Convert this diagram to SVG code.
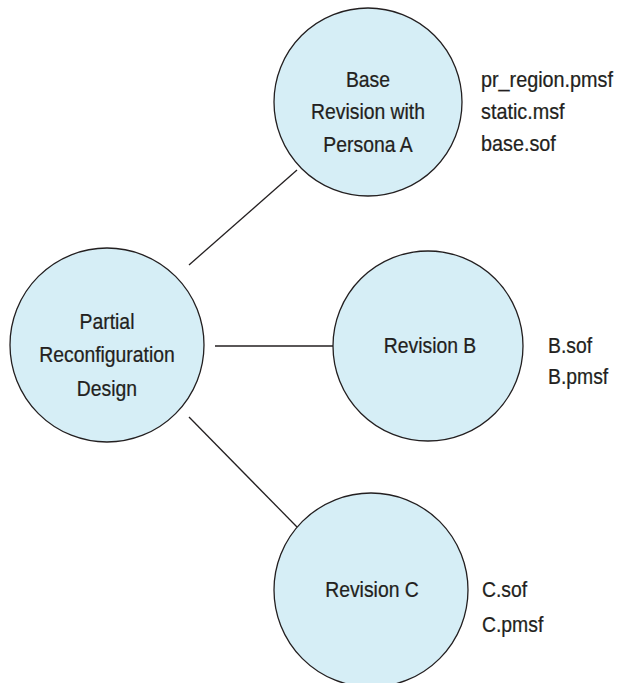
<svg xmlns="http://www.w3.org/2000/svg" width="620" height="683" viewBox="0 0 620 683">
  <style>
    .node { fill: #d6eef6; stroke: #231f20; stroke-width: 1.3; }
    .edge { stroke: #231f20; stroke-width: 1.3; fill: none; }
    .lbl { font-family: "Liberation Sans", Arial, sans-serif; font-size: 22px; fill: #231f20; stroke: #231f20; stroke-width: 0.25; }
    .mid { text-anchor: middle; }
    .start { text-anchor: start; }
  </style>
  <rect width="620" height="683" fill="#ffffff"/>

  <!-- connectors from the design to each revision -->
  <g id="connectors">
    <line class="edge" x1="189" y1="265" x2="297" y2="170"/>
    <line class="edge" x1="215" y1="346" x2="333" y2="346"/>
    <line class="edge" x1="189" y1="417" x2="297" y2="527"/>
  </g>

  <g id="node-design">
    <circle class="node" cx="107" cy="345" r="97"/>
    <g transform="translate(107,0) scale(0.88,1)">
      <text class="lbl mid" x="0" y="329">Partial</text>
      <text class="lbl mid" x="0" y="362">Reconfiguration</text>
      <text class="lbl mid" x="0" y="396">Design</text>
    </g>
  </g>

  <g id="node-base">
    <circle class="node" cx="368" cy="102" r="94"/>
    <g transform="translate(368,0) scale(0.88,1)">
      <text class="lbl mid" x="0" y="87">Base</text>
      <text class="lbl mid" x="0" y="119">Revision with</text>
      <text class="lbl mid" x="0" y="152">Persona A</text>
    </g>
    <g transform="translate(481,0) scale(0.9,1)">
      <text class="lbl start" x="0" y="87">pr_region.pmsf</text>
      <text class="lbl start" x="0" y="119">static.msf</text>
      <text class="lbl start" x="0" y="151">base.sof</text>
    </g>
  </g>

  <g id="node-rev-b">
    <circle class="node" cx="428" cy="346" r="95"/>
    <g transform="translate(430,0) scale(0.88,1)">
      <text class="lbl mid" x="0" y="353">Revision B</text>
    </g>
    <g transform="translate(548,0) scale(0.88,1)">
      <text class="lbl start" x="0" y="353">B.sof</text>
      <text class="lbl start" x="0" y="384">B.pmsf</text>
    </g>
  </g>

  <g id="node-rev-c">
    <circle class="node" cx="371" cy="590" r="97"/>
    <g transform="translate(372,0) scale(0.88,1)">
      <text class="lbl mid" x="0" y="597">Revision C</text>
    </g>
    <g transform="translate(482,0) scale(0.88,1)">
      <text class="lbl start" x="0" y="597">C.sof</text>
      <text class="lbl start" x="0" y="632">C.pmsf</text>
    </g>
  </g>
</svg>
